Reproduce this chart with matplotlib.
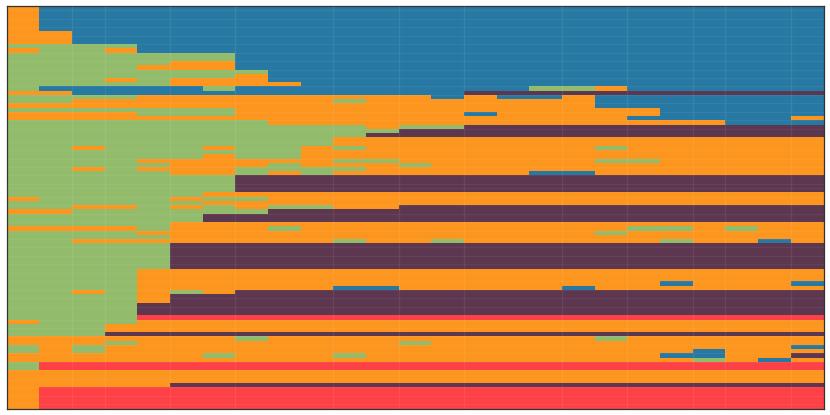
"""
Category heatmap: 95 rows by 25 columns, coloured by state.
Rows are written as runs, e.g. "G7 B18" is 7 green cells then 18 blue.
"""
import matplotlib
matplotlib.use("Agg")
import matplotlib.pyplot as plt
import numpy as np
from matplotlib.colors import ListedColormap

STATES = ["B", "O", "G", "P", "R"]
STATE_COLORS = ["#2779a3", "#fc961f", "#92bc6c", "#5d364f", "#fd4146"]

ROWS = [
    "O1 B24", "O1 B24", "O1 B24", "O1 B24", "O1 B24", "O1 B24",
    "O2 B23", "O2 B23", "O2 B23",
    "G4 B21",
    "O1 G2 O1 B21",
    "G7 B18", "G7 B18",
    "G5 O2 B18",
    "G4 O3 B18",
    "G8 B17",
    "G7 O1 B17",
    "G3 O1 G1 O3 B17",
    "G5 O4 B16",
    "G1 B5 G1 B9 G2 O1 B6",
    "O2 B12 P11",
    "G4 O9 B1 O1 B2 O1 B7",
    "G2 O8 G1 O7 B7",
    "O18 B7",
    "G7 O13 B5",
    "O4 G3 O7 B1 O5 B5",
    "O19 B5 O1",
    "G8 O14 B3",
    "G11 O1 G2 P11",
    "G12 P13",
    "G11 P14",
    "G10 O15",
    "G10 O15",
    "G2 O1 G3 O1 G2 O1 G1 O7 G1 O6",
    "G9 O16",
    "G6 O1 G2 O16",
    "G4 O6 G2 O6 G2 O5",
    "G5 O3 G1 O3 G1 O12",
    "G2 O1 G1 O3 G4 O14",
    "G5 O2 G1 O1 G1 O6 B2 O7",
    "G7 P18", "G7 P18", "G7 P18", "G7 P18",
    "G6 O19",
    "O1 G4 O1 G2 O17",
    "G6 O19",
    "G2 O2 G1 O1 G1 O1 G2 O2 P13",
    "O2 G6 P17",
    "G6 P19", "G6 P19",
    "G5 O20",
    "O4 G1 O3 G1 O10 G2 O1 G1 O2",
    "G4 O14 G1 O6",
    "G5 O20",
    "G2 O8 G1 O2 G1 O6 G1 O2 B1 O1",
    "G5 P20", "G5 P20", "G5 P20", "G5 P20", "G5 P20", "G5 P20",
    "G4 O21", "G4 O21", "G4 O21",
    "G4 O16 B1 O3 B1",
    "G4 O6 B2 O5 B1 O7",
    "G2 O1 G1 O1 G1 O1 P18",
    "G4 O1 P20", "G4 O1 P20",
    "G4 P21", "G4 P21", "G4 P21",
    "G4 R21",
    "O1 G3 O21",
    "G3 O22", "G3 O22",
    "G3 P22",
    "O7 G1 O10 G1 O6",
    "O3 G1 O8 G1 O12",
    "G1 O1 G1 O21 B1",
    "G1 O1 G1 O18 B1 O3",
    "O6 G1 O3 G1 O9 B2 O2 P1",
    "O21 G1 O1 B1 O1",
    "G1 R24", "G1 R24",
    "O25", "O25", "O25",
    "O5 P20",
    "O1 R24", "O1 R24", "O1 R24", "O1 R24", "O1 R24",
]

# grid lines fall on these cell edges (uneven in the source)
X_TICKS = [2, 3, 5, 7, 10, 12, 14, 17, 19, 21, 22, 24]
Y_TICKS = [1, 3, 5, 7, 9, 11, 13, 15, 17, 19, 21, 23, 25, 27, 29, 32, 34, 36, 38, 40,
           42, 43, 45, 47, 49, 51, 53, 55, 57, 59, 61, 63, 65, 67, 69, 71, 74, 76, 78,
           80, 82, 84, 86, 88, 90, 92, 94]


def decode(row):
    cells = []
    for run in row.split():
        cells += [STATES.index(run[0])] * int(run[1:])
    assert len(cells) == 25, row
    return cells


grid = np.array([decode(r) for r in ROWS])
print(grid.shape)

fig = plt.figure(figsize=(8.3, 4.15), dpi=100)
ax = fig.add_axes([6.5 / 830, 1 - 408.5 / 415, 817 / 830, 402.5 / 415])
ax.pcolormesh(grid, cmap=ListedColormap(STATE_COLORS), vmin=0, vmax=4, rasterized=True)
ax.set_xlim(0, 25)
ax.set_ylim(len(ROWS), 0)

ax.set_xticks(X_TICKS)
ax.set_yticks(Y_TICKS)
ax.tick_params(length=0, labelbottom=False, labelleft=False)
ax.set_axisbelow(False)
ax.grid(axis="x", color="white", alpha=0.07, linewidth=1.0)
ax.grid(axis="y", color="white", alpha=0.05, linewidth=0.8)

for side in ax.spines.values():
    side.set_color("#333333")
    side.set_linewidth(0.9)

fig.savefig("out.png", dpi=100)
plt.close(fig)
